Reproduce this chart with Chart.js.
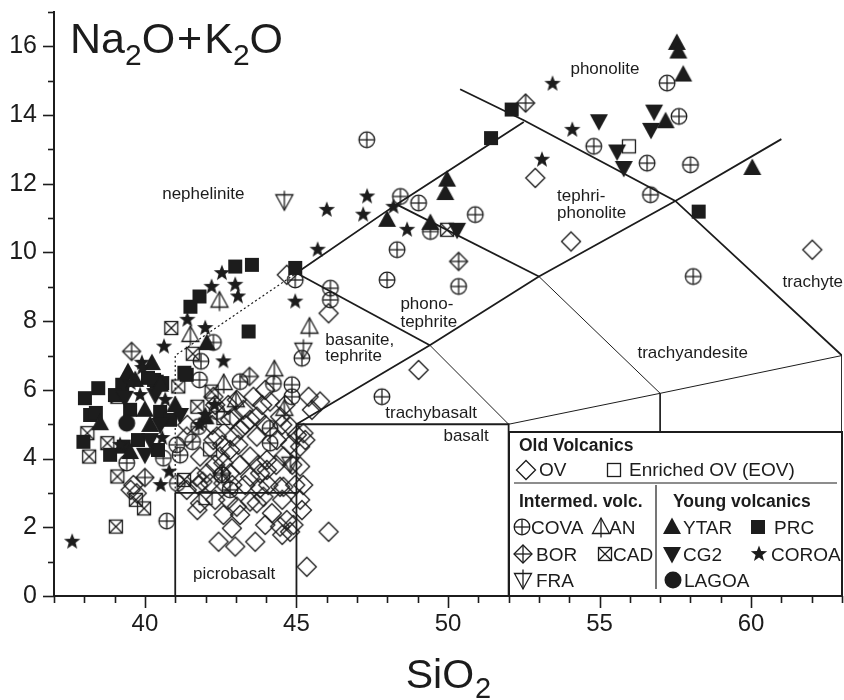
<!DOCTYPE html>
<html><head><meta charset="utf-8">
<script src="https://cdn.jsdelivr.net/npm/chart.js@4.4.1/dist/chart.umd.min.js"></script>
<style>html,body{margin:0;padding:0;background:#fff}canvas{display:block}</style>
</head><body>
<canvas id="c" width="844" height="700"></canvas>
<script>
// ---------------- DATA (SiO2, Na2O+K2O) ----------------
const xTicks = [40, 45, 50, 55, 60];
const yTicks = [0, 2, 4, 6, 8, 10, 12, 14, 16];

const OV = [
[44.68,9.35],[46.06,8.23],[49.03,6.58],[54.06,10.32],[52.88,12.17],[62.02,10.08],
[45.4,5.8],[45.78,5.66],[45.01,4.69],[46.06,1.87],[45.34,0.85],
[45.18,2.5],[44.9,2.07],[45.12,3.77],[45.29,4.54],[45.22,3.23],[45.12,2.8],
[41.82,2.7],[42.59,2.36],[43.14,2.36],[42.43,1.58],[42.98,1.44],[43.64,1.58],[42.87,1.97],[43.69,2.7],[44.19,2.41],[44.46,2.02],[44.79,1.87],[44.68,2.21],[43.47,2.75],[43.91,2.89],[43.03,2.6],[42.15,3.28],[42.81,3.57],[43.47,3.47],[44.02,3.67],[44.46,3.18],[43.8,3.14],[42.59,3.28],
[43.58,5.8],[44.13,5.66],[45.51,5.42],[43.69,5.22],[43.25,5.42],[43.14,4.84],[43.69,4.64],[44.35,4.54],[44.57,4.06],[45.12,4.35],[45.23,4.74],[42.81,4.25],[43.47,4.06],[44.02,3.96],[42.59,3.87],[43.03,5.71],[42.81,5.13],[43.97,6.0],[44.46,5.22],[44.79,4.93],[42.37,4.64],
[41.38,3.09],[41.71,3.47],[41.82,4.06],[42.48,4.06],[42.26,4.54],[42.92,4.64],[42.92,5.22],[43.47,5.13],[42.26,5.8],[41.38,4.64],[42.04,3.57],[43.8,3.57],[44.57,3.18],
[41.4,4.98],[39.53,3.09],[41.9,3.33],[39.62,3.23],[39.73,2.99],[41.73,2.5],
[42.32,5.56],[42.75,5.56],[43.87,5.56],[44.63,5.56],[42.22,4.98],[43.31,4.98],[43.97,4.98],[44.53,4.98],[42.55,4.4],[43.08,4.4],[44.79,4.4],[42.32,3.82],[43.14,3.82],[43.74,3.82],[44.33,3.82],[44.86,3.82],[41.76,3.23],[42.88,3.23],[43.31,3.23],[44.07,3.23],[44.96,3.23],[42.32,2.8],[42.75,2.8],[44.53,2.8],[43.97,2.07],[44.53,1.78]
];
const EOV = [[55.97,13.09],[42.59,5.18],[42.15,4.27],[42.0,2.85]];
const COVA = [
[47.32,13.28],[48.43,11.63],[49.03,11.44],[50.9,11.1],[49.42,10.61],[48.32,10.08],[47.99,9.2],[50.35,9.01],[46.12,8.96],[46.12,8.62],[44.96,9.2],[45.18,6.92],[44.85,6.15],[44.85,5.8],[47.82,5.8],
[57.23,14.93],[57.62,13.96],[54.81,13.09],[56.57,12.6],[58.0,12.55],[56.68,11.68],[58.09,9.3],
[41.85,6.83],[42.26,7.38],[44.24,6.18],[43.14,6.24],[41.8,6.29],[44.13,4.88],[44.13,4.45],[40.61,4.01],[40.72,2.18],[39.4,3.87],[41.05,4.4],[41.16,4.1],[41.77,4.93],[42.37,5.37],[42.54,3.52],[42.81,3.09],[41.57,4.49],[41.07,3.28]
];
const BOR = [[52.56,14.35],[50.35,9.74],[39.56,7.12],[43.45,6.39],[40.0,3.45],[42.54,3.57]];
const FRA = [[44.6,11.49],[45.23,7.17],[44.8,3.85]];
const AN = [[45.43,7.84],[44.27,6.6],[42.46,8.6],[41.5,7.6],[44.6,5.45],[42.6,6.2],[43.0,5.7]];
const CAD = [[39.04,2.02],[38.16,4.06],[38.76,4.45],[39.97,2.55],[39.7,2.8],[39.09,3.48],[38.1,4.74],[41.73,5.51],[41.29,3.38],[40.87,7.8],[41.58,7.05],[41.1,6.1],[39.09,5.8],[42.2,5.95],[49.97,10.66]];
const YTAR = [[57.55,16.1],[57.6,15.85],[57.76,15.18],[57.18,13.82],[60.04,12.46],[49.97,12.12],[49.91,11.73],[49.42,10.86],[47.99,10.95],[40.23,6.78],[42.04,7.36],[38.52,5.03],
[39.68,6.29],[40.5,6.15],[40.0,5.42],[40.17,4.98],[39.51,4.19],[41.0,5.56],[39.44,6.52],[42.0,5.2]];
const CG2 = [[50.3,10.66],[54.98,13.82],[56.8,14.1],[56.7,13.57],[55.58,12.94],[55.8,12.46],
[39.34,5.77],[40.34,5.85],[40.5,4.98],[40.17,4.54],[40.0,4.11],[41.16,5.27]];
const PRC = [[52.1,14.16],[51.42,13.33],[58.27,11.19],[44.96,9.55],[43.53,9.64],[42.98,9.59],[41.8,8.72],[41.5,8.42],[43.42,7.7],[41.38,6.44],[40.39,6.24],[38.02,5.76],[38.46,6.05],[38.19,5.27],[37.97,4.49],[38.85,4.11],[39.3,4.35],[40.3,6.29],[40.57,6.2],[41.3,6.5],[38.38,5.33],
[39.25,6.15],[40.1,6.35],[39.51,5.42],[40.5,5.36],[39.77,4.54],[40.43,4.25],[39.01,5.85],[40.83,5.13]];
const COROA = [[37.6,1.58],[53.45,14.91],[54.1,13.57],[53.1,12.7],[47.33,11.63],[46.0,11.24],[47.2,11.1],[48.2,11.33],[48.65,10.66],[45.7,10.08],[44.96,8.57],[42.54,9.4],[42.98,9.06],[42.2,9.0],[43.07,8.72],[41.4,8.04],[41.99,7.8],[40.63,7.26],[39.9,6.79],[39.53,6.2],[42.59,6.83],[40.8,3.62],[40.52,3.23],[41.99,5.27],[42.3,5.56],[41.8,4.98],
[39.84,5.85],[40.67,5.71],[40.57,4.6],[39.18,4.4],[39.91,6.64]];
const LAGOA = [[39.4,5.03]];

// TAS field boundaries
const bPicroLeft = [[41,0],[41,3]];
const bPicroTop = [[41,3],[45,3]];
const bBasalt = [[45,0],[45,5],[52,5],[52,0]];
const bAlkDiag = [[45,5],[49.4,7.3],[53,9.3],[57.5,11.5],[61,13.3]];
const bUpperDiag = [[45,9.4],[48.3,11.4],[52.5,13.8]];
const bPhonolite = [[50.4,14.75],[52.5,13.85],[57.5,11.5],[63,7],[63,0]];
const bTephThick = [[45,9.4],[49.4,7.3]];
const bTephThin = [[49.4,7.3],[52,5]];
const bPhTephThick = [[48.3,11.4],[53,9.3]];
const bPhTephThin = [[53,9.3],[57,5.9],[57,0]];
const bBasAnd = [[52,5],[57,5.9],[63,7]];
const bFoidDotted = [[41,3],[41,7],[45,9.4]];

const regionNames = ['nephelinite','phonolite','tephri-','phonolite','phono-','tephrite','basanite,','tephrite','trachybasalt','basalt','picrobasalt','trachyandesite','trachyte'];
const regionAt = [[40.57,11.56],[54.04,15.2],[53.6,11.5],[53.6,11.0],[48.43,8.36],[48.43,7.84],[45.95,7.31],[45.95,6.85],[47.93,5.19],[49.85,4.52],[41.59,0.5],[56.25,6.93],[61.04,9.0]];

// ---------------- MARKERS ----------------
const INK = '#1c1c1c';
const FF = '"Liberation Sans", Arial, Helvetica, sans-serif';
function mk(type, s) {
  s = s || 1;
  const size = Math.ceil(26 * s / 2) * 2;
  const c = document.createElement('canvas'); c.width = size; c.height = size;
  const g = c.getContext('2d');
  g.translate(size / 2, size / 2); g.scale(s, s);
  g.strokeStyle = INK; g.fillStyle = INK; g.lineWidth = 1.3;
  const poly = (pts, fill) => { g.beginPath(); pts.forEach((p, i) => i ? g.lineTo(p[0], p[1]) : g.moveTo(p[0], p[1])); g.closePath(); fill ? g.fill() : g.stroke(); };
  const ln = (a, b, c2, d) => { g.beginPath(); g.moveTo(a, b); g.lineTo(c2, d); g.stroke(); };
  switch (type) {
    case 'OV': poly([[0,-9.5],[9.5,0],[0,9.5],[-9.5,0]]); break;
    case 'EOV': g.strokeRect(-6.5,-6.5,13,13); break;
    case 'COVA': g.beginPath(); g.arc(0,0,7.8,0,Math.PI*2); g.stroke(); ln(-7.8,0,7.8,0); ln(0,-7.8,0,7.8); break;
    case 'BOR': poly([[0,-9],[9,0],[0,9],[-9,0]]); ln(-9,0,9,0); ln(0,-9,0,9); break;
    case 'CAD': g.strokeRect(-6.5,-6.5,13,13); ln(-6.5,-6.5,6.5,6.5); ln(6.5,-6.5,-6.5,6.5); break;
    case 'AN': poly([[0,-9],[8.5,6.5],[-8.5,6.5]]); ln(0,-9,0,10.5); break;
    case 'FRA': poly([[-8.5,-6.5],[8.5,-6.5],[0,9]]); ln(0,-10.5,0,9); break;
    case 'YTAR': poly([[0,-9.5],[9,7],[-9,7]], true); break;
    case 'CG2': poly([[-9,-7],[9,-7],[0,9.5]], true); break;
    case 'PRC': g.fillRect(-7,-7,14,14); break;
    case 'COROA': { const p = []; for (let i = 0; i < 10; i++) { const r = i % 2 ? 3.6 : 8.6; const a = -Math.PI/2 + i*Math.PI/5; p.push([r*Math.cos(a), r*Math.sin(a)]); } poly(p, true); break; }
    case 'LAGOA': g.beginPath(); g.arc(0,0,8.5,0,Math.PI*2); g.fill(); break;
  }
  return c;
}
const M = {}; ['OV','EOV','COVA','BOR','CAD','AN','FRA','YTAR','CG2','PRC','COROA','LAGOA'].forEach(k => M[k] = mk(k, 1));

const toXY = a => a.map(p => ({x: p[0], y: p[1]}));
const lineDS = (pts, w, dash) => ({type:'line', data: toXY(pts), borderColor: INK, borderWidth: w, borderDash: dash || [], pointRadius: 0, fill: false, tension: 0, order: 100, showLine: true});
const ptDS = (pts, key, ord) => ({type:'scatter', label: key, data: toXY(pts), pointStyle: M[key], pointRadius: 8, order: ord});

const datasets = [
  lineDS(bPicroLeft, 1.8), lineDS(bPicroTop, 1.8), lineDS(bBasalt, 1.8), lineDS(bAlkDiag, 1.8),
  lineDS(bUpperDiag, 1.8), lineDS(bPhonolite, 1.8), lineDS(bTephThick, 1.8), lineDS(bTephThin, 1),
  lineDS(bPhTephThick, 1.8), lineDS(bPhTephThin, 1), lineDS(bBasAnd, 1), lineDS(bFoidDotted, 1.2, [2, 2.5]),
  ptDS(OV,'OV',30), ptDS(EOV,'EOV',29), ptDS(COVA,'COVA',28), ptDS(BOR,'BOR',27), ptDS(AN,'AN',26),
  ptDS(CAD,'CAD',25), ptDS(FRA,'FRA',24), ptDS(PRC,'PRC',10), ptDS(CG2,'CG2',9), ptDS(YTAR,'YTAR',8),
  ptDS(COROA,'COROA',7), ptDS(LAGOA,'LAGOA',1)
];

// ---------------- PLUGIN: layout fix, ticks, titles, labels, legend ----------------
const PLOT_RIGHT = 842;
const deco = {
  id: 'deco',
  afterLayout(chart) {
    const x = chart.scales.x;
    chart.chartArea.right = PLOT_RIGHT;
    chart.chartArea.width = PLOT_RIGHT - chart.chartArea.left;
    x.right = PLOT_RIGHT; x.width = x.right - x.left;
    x.configure();
  },
  afterDatasetsDraw(chart) {
    const {ctx, chartArea: ca, scales: {x, y}} = chart;
    ctx.save();
    ctx.fillStyle = INK; ctx.font = '17px ' + FF; ctx.textAlign = 'left'; ctx.textBaseline = 'alphabetic';
    regionNames.forEach((t, i) => ctx.fillText(t, x.getPixelForValue(regionAt[i][0]), y.getPixelForValue(regionAt[i][1])));
    let px = ca.left + 16; const by = ca.top + 41;
    const seg = (t, big) => { ctx.font = (big ? '43px ' : '30px ') + FF; ctx.fillText(t, px, big ? by : by + 12); px += ctx.measureText(t).width; };
    seg('Na', 1); seg('2', 0); seg('O', 1); px += 2; seg('+', 1); px += 2; seg('K', 1); seg('2', 0); seg('O', 1);
    const L = Math.round(x.getPixelForValue(52)), T = Math.round(y.getPixelForValue(4.78)), R = ca.right, B = ca.bottom;
    ctx.fillStyle = '#fff'; ctx.fillRect(L, T, R - L, B - T);
    ctx.strokeStyle = INK; ctx.lineWidth = 2; ctx.strokeRect(L, T, R - L, B - T);
    ctx.lineWidth = 1.2;
    ctx.beginPath(); ctx.moveTo(L + 5, T + 51); ctx.lineTo(R - 5, T + 51); ctx.stroke();
    ctx.beginPath(); ctx.moveTo(L + 147, T + 53); ctx.lineTo(L + 147, T + 157); ctx.stroke();
    ctx.fillStyle = INK;
    ctx.font = 'bold 17.5px ' + FF;
    ctx.fillText('Old Volcanics', L + 10, T + 19);
    ctx.fillText('Intermed. volc.', L + 10, T + 75);
    ctx.fillText('Young volcanics', L + 164, T + 75);
    const items = [
      ['OV', 17, 38, 'OV', 30, 44], ['EOV', 105, 38, 'Enriched OV (EOV)', 120, 44],
      ['COVA', 13, 95, 'COVA', 22, 102], ['AN', 92, 95, 'AN', 100, 102], ['YTAR', 163, 95, 'YTAR', 174, 102], ['PRC', 249, 95, 'PRC', 265, 102],
      ['BOR', 14, 122, 'BOR', 27, 129], ['CAD', 96, 122, 'CAD', 104, 129], ['CG2', 163, 122, 'CG2', 174, 129], ['COROA', 250, 122, 'COROA', 262, 129],
      ['FRA', 14, 148, 'FRA', 27, 155], ['LAGOA', 164, 148, 'LAGOA', 175, 155]
    ];
    ctx.font = '19px ' + FF;
    items.forEach(it => {
      const m = M[it[0]];
      ctx.drawImage(m, L + it[1] - m.width / 2, T + it[2] - m.height / 2);
      ctx.fillText(it[3], L + it[4], T + it[5]);
    });
    ctx.restore();
  },
  afterDraw(chart) {
    const {ctx, chartArea: ca, scales: {x, y}} = chart;
    ctx.save();
    ctx.strokeStyle = INK; ctx.lineWidth = 2;
    ctx.beginPath(); ctx.moveTo(ca.left, ca.bottom); ctx.lineTo(ca.right, ca.bottom); ctx.stroke();
    ctx.lineWidth = 1.6;
    for (let v = 37; v <= 63; v++) {
      const p = Math.round(x.getPixelForValue(v)) + 0.5, len = v % 5 === 0 ? 12 : 7;
      ctx.beginPath(); ctx.moveTo(p, ca.bottom); ctx.lineTo(p, ca.bottom + len); ctx.stroke();
    }
    for (let v = 0; v <= 17; v++) {
      const p = Math.round(y.getPixelForValue(v)) + 0.5, len = v % 2 === 0 ? 11 : 6;
      ctx.beginPath(); ctx.moveTo(ca.left, p); ctx.lineTo(ca.left - len, p); ctx.stroke();
    }
    ctx.fillStyle = INK; ctx.textBaseline = 'alphabetic'; ctx.textAlign = 'left';
    ctx.font = '41px ' + FF; const w1 = ctx.measureText('SiO').width;
    ctx.font = '29px ' + FF; const w2 = ctx.measureText('2').width;
    const cx = (ca.left + ca.right) / 2, sx = cx - (w1 + w2) / 2;
    ctx.font = '41px ' + FF; ctx.fillText('SiO', sx, 688);
    ctx.font = '29px ' + FF; ctx.fillText('2', sx + w1 + 1, 698);
    ctx.restore();
  }
};

const zeroPad = s => { s.paddingTop = 0; s.paddingBottom = 0; s.paddingLeft = 0; s.paddingRight = 0; };

new Chart(document.getElementById('c'), {
  type: 'scatter',
  data: { datasets },
  options: {
    responsive: false, animation: false, devicePixelRatio: 1, events: [],
    layout: { padding: { top: 12, right: 2, left: 0, bottom: 0 } },
    plugins: { legend: { display: false }, tooltip: { enabled: false } },
    scales: {
      x: {
        type: 'linear', min: 37, max: 63,
        afterFit: s => { s.height = 104; zeroPad(s); },
        grid: { display: false, drawTicks: false },
        border: { display: true, color: INK, width: 2 },
        ticks: { stepSize: 1, autoSkip: false, maxRotation: 0, padding: 14, color: INK, font: { family: FF, size: 24 },
          callback: v => xTicks.includes(Math.round(v)) ? String(Math.round(v)) : '' }
      },
      y: {
        min: 0, max: 17,
        afterFit: s => { s.width = 54; zeroPad(s); },
        grid: { display: false, drawTicks: false },
        border: { display: true, color: INK, width: 2 },
        ticks: { stepSize: 1, autoSkip: false, padding: 17, color: INK, font: { family: FF, size: 25 },
          callback: v => yTicks.includes(Math.round(v)) ? String(Math.round(v)) : '' }
      }
    }
  },
  plugins: [deco]
});
</script>
</body></html>
